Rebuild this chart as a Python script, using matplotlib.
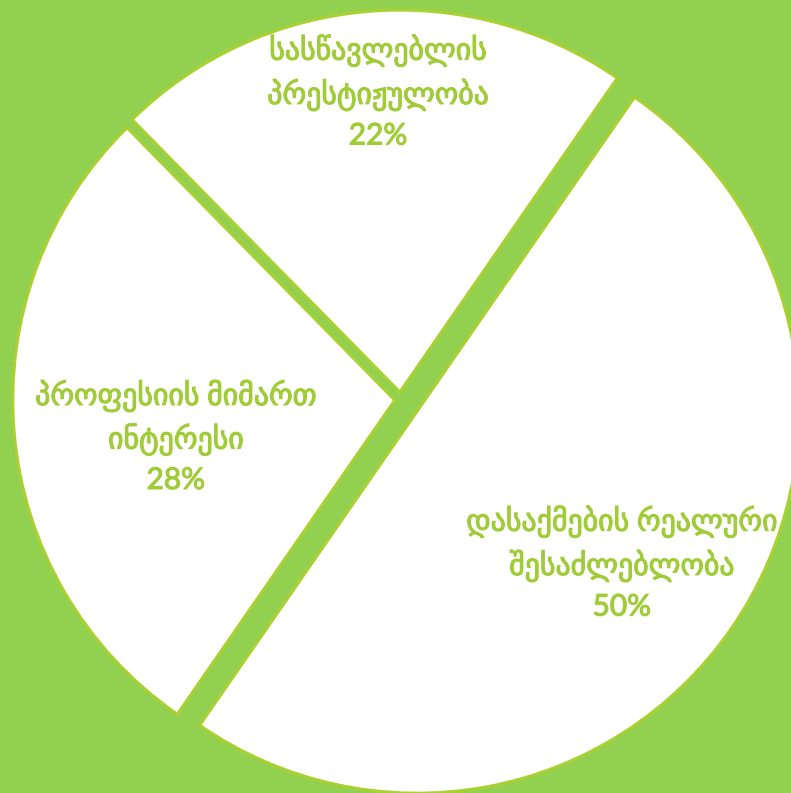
import numpy as np
import matplotlib
matplotlib.use('Agg')
import matplotlib.pyplot as plt
import matplotlib.patheffects as pe

#-------------------------------------------------
#                DATA
#-------------------------------------------------

labels = ['სასწავლებლის\nპრესტიჟულობა',
          'პროფესიის მიმართ\nინტერესი',
          'დასაქმების რეალური\nშესაძლებლობა']
values = [22, 28, 50]

#-------------------------------------------------
#                STYLE
#-------------------------------------------------

bg_color = '#92D050'
edge_color = '#AAD032'
text_color = '#A0CC38'
explode = [0.02, 0.015, 0.053]
label_off = [(-0.057, 0.786), (-0.573, -0.096), (0.536, -0.397)]   # label offset from slice centre

plt.rcParams['font.family'] = ['Lato', 'DejaVu Sans']

fig = plt.figure(figsize=(7.91, 7.93), dpi=100)
fig.patch.set_facecolor(bg_color)
ax = fig.add_axes([0, 0, 1, 1])
ax.set_facecolor(bg_color)

wedges, _ = ax.pie(values, explode=explode, startangle=55.3, counterclock=True,
                   colors=['white'] * 3,
                   wedgeprops={'edgecolor': edge_color, 'linewidth': 2.2})

for w, lab, val, off in zip(wedges, labels, values, label_off):
    cx, cy = w.center
    t = ax.text(cx + off[0], cy + off[1], lab + '\n' + str(val) + '%',
                ha='center', va='center', color=text_color,
                fontsize=21.5, linespacing=1.45)
    t.set_path_effects([pe.withStroke(linewidth=0.8, foreground=text_color)])

ax.set_xlim(-1.0484, 1.0223)
ax.set_ylim(-1.0296, 1.0463)
ax.set_aspect('auto')
ax.axis('off')

plt.savefig('out.png', dpi=100, facecolor=bg_color)
